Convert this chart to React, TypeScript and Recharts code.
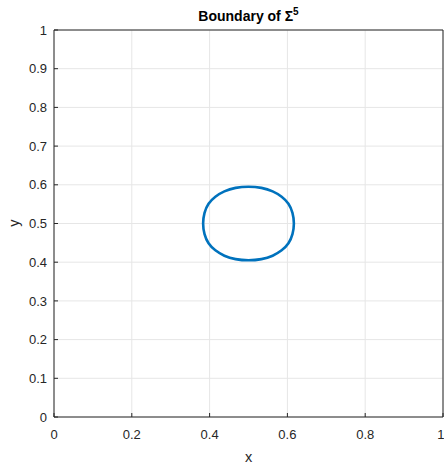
import React from 'react';
import { LineChart, Line, XAxis, YAxis, CartesianGrid, ReferenceLine } from 'recharts';

// boundary points, counter-clockwise from the right side (closed by the curve)
const BOUNDARY_X = [
  0.618, 0.614, 0.604, 0.586, 0.563, 0.534, 0.500,
  0.466, 0.437, 0.414, 0.396, 0.386, 0.382,
  0.386, 0.396, 0.414, 0.437, 0.466, 0.500,
  0.534, 0.563, 0.586, 0.604, 0.614,
];
const BOUNDARY_Y = [
  0.500, 0.528, 0.552, 0.570, 0.584, 0.593, 0.596,
  0.593, 0.584, 0.570, 0.552, 0.528, 0.500,
  0.472, 0.448, 0.430, 0.416, 0.407, 0.404,
  0.407, 0.416, 0.430, 0.448, 0.472,
];
const X_TICKS = [0, 0.2, 0.4, 0.6, 0.8, 1];
const Y_TICKS = [0, 0.1, 0.2, 0.3, 0.4, 0.5, 0.6, 0.7, 0.8, 0.9, 1];

const boundary = BOUNDARY_X.map((x, i) => ({ x, y: BOUNDARY_Y[i] }));

const font = 'Arial, "Liberation Sans", Helvetica, sans-serif';
const axisColor = '#262626';
const tickStyle = { fill: axisColor, fontSize: 13, fontFamily: font };

export default function App() {
  return (
    <div style={{ position: 'absolute', left: 0, top: 0, width: 444, height: 467, background: '#fff', fontFamily: font }}>
      <LineChart width={444} height={467} data={boundary} margin={{ top: 30, right: 1, bottom: 0, left: 0 }}>
        <CartesianGrid stroke="#e6e6e6" strokeWidth={1} verticalValues={X_TICKS} horizontalValues={Y_TICKS} />
        <XAxis
          type="number"
          dataKey="x"
          domain={[0, 1]}
          ticks={X_TICKS}
          tickFormatter={(v: number) => String(v)}
          height={50}
          stroke={axisColor}
          tickSize={-4}
          tickMargin={17}
          tick={tickStyle}
          allowDataOverflow
        />
        <YAxis
          type="number"
          dataKey="y"
          domain={[0, 1]}
          ticks={Y_TICKS}
          tickFormatter={(v: number) => String(v)}
          width={54}
          stroke={axisColor}
          tickSize={-4}
          tickMargin={11}
          tick={tickStyle}
          allowDataOverflow
        />
        {/* box edges */}
        <ReferenceLine y={1} stroke={axisColor} />
        <ReferenceLine x={1} stroke={axisColor} />
        <Line
          type="basisClosed"
          dataKey="y"
          stroke="#0072BD"
          strokeWidth={2.6}
          dot={false}
          isAnimationActive={false}
        />
      </LineChart>
      <div style={{ position: 'absolute', left: 0, width: 497, top: 6, textAlign: 'center', fontSize: 14, fontWeight: 'bold', color: '#000' }}>
        Boundary of Σ<sup style={{ fontSize: 10, verticalAlign: 6 }}>5</sup>
      </div>
      <div style={{ position: 'absolute', left: 0, width: 497, top: 449, textAlign: 'center', fontSize: 14.5, color: axisColor }}>
        x
      </div>
      <div style={{ position: 'absolute', left: 14, top: 223, transform: 'translate(-50%, -50%) rotate(-90deg)', fontSize: 14.5, color: axisColor }}>
        y
      </div>
    </div>
  );
}
